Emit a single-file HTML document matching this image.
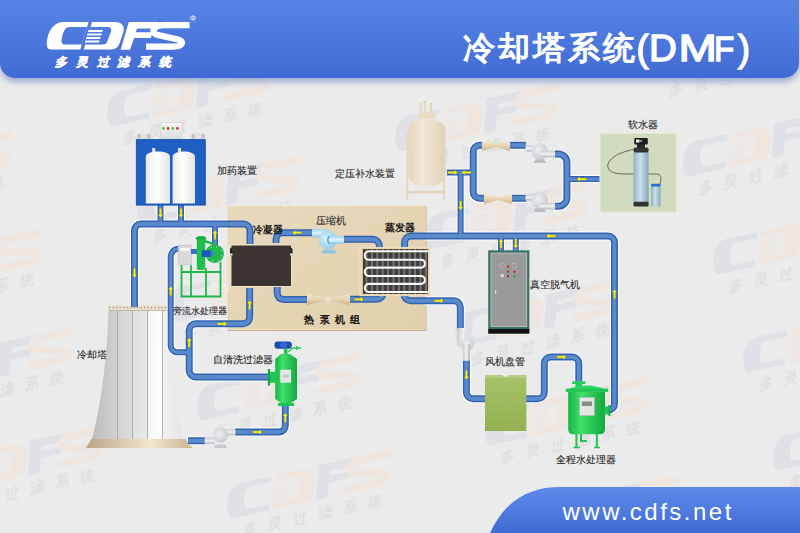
<!DOCTYPE html>
<html><head><meta charset="utf-8">
<style>
html,body{margin:0;padding:0;}
body{width:800px;height:533px;overflow:hidden;background:#ebebeb;position:relative;font-family:"Liberation Sans",sans-serif;}
svg{position:absolute;left:0;top:0;}
text{font-family:"Liberation Sans",sans-serif;}
.lb{font-size:10px;fill:#2a2a2a;stroke:#2a2a2a;stroke-width:0.12;}
.lbb{font-size:10px;fill:#111;stroke:#111;stroke-width:0.35;}
</style></head><body>
<svg width="800" height="533" viewBox="0 0 800 533">
<defs>
  <linearGradient id="hdr" x1="0" y1="0" x2="0" y2="1">
    <stop offset="0" stop-color="#5e8aea"/><stop offset="1" stop-color="#416bd3"/>
  </linearGradient>
  <filter id="sh" x="-10%" y="-30%" width="120%" height="170%">
    <feGaussianBlur in="SourceAlpha" stdDeviation="3.2"/>
    <feOffset dx="0" dy="4" result="b"/>
    <feColorMatrix type="matrix" values="0 0 0 0 0.33  0 0 0 0 0.41  0 0 0 0 0.64  0 0 0 1 0"/>
    <feMerge><feMergeNode/><feMergeNode in="SourceGraphic"/></feMerge>
  </filter>
  <linearGradient id="tanbox" x1="0" y1="0" x2="1" y2="1">
    <stop offset="0" stop-color="#e9dabd"/><stop offset="1" stop-color="#e1d0ad"/>
  </linearGradient>
  <linearGradient id="cream" x1="0" y1="0" x2="1" y2="0">
    <stop offset="0" stop-color="#e4d6be"/><stop offset="0.4" stop-color="#f2e8d8"/><stop offset="1" stop-color="#e2d2b8"/>
  </linearGradient>
  <linearGradient id="bow" x1="0" y1="0" x2="0" y2="1">
    <stop offset="0" stop-color="#f3e6cf"/><stop offset="0.5" stop-color="#e9d4b0"/><stop offset="1" stop-color="#cdb189"/>
  </linearGradient>
  <radialGradient id="greyp" cx="0.4" cy="0.4" r="0.7">
    <stop offset="0" stop-color="#eceef0"/><stop offset="1" stop-color="#c4c8cd"/>
  </radialGradient>
  <linearGradient id="greypipe" x1="0" y1="0" x2="0" y2="1">
    <stop offset="0" stop-color="#c9cbce"/><stop offset="0.5" stop-color="#f2f2f2"/><stop offset="1" stop-color="#b8babd"/>
  </linearGradient>
  <linearGradient id="greypipev" x1="0" y1="0" x2="1" y2="0">
    <stop offset="0" stop-color="#c9cbce"/><stop offset="0.5" stop-color="#f2f2f2"/><stop offset="1" stop-color="#b8babd"/>
  </linearGradient>
  <radialGradient id="bluep" cx="0.4" cy="0.4" r="0.7">
    <stop offset="0" stop-color="#d8f0fb"/><stop offset="1" stop-color="#8ec9e6"/>
  </radialGradient>
  <linearGradient id="bluepipe" x1="0" y1="0" x2="0" y2="1">
    <stop offset="0" stop-color="#9fd3ee"/><stop offset="0.5" stop-color="#e2f4fc"/><stop offset="1" stop-color="#8cc6e4"/>
  </linearGradient>
  <linearGradient id="tower" gradientUnits="userSpaceOnUse" x1="92" y1="0" x2="184" y2="0">
    <stop offset="0" stop-color="#bdbdbd"/><stop offset="0.2" stop-color="#cbcbcb"/><stop offset="0.36" stop-color="#d9d9d9"/><stop offset="0.44" stop-color="#dcdcdc"/><stop offset="0.45" stop-color="#e0e0e0"/><stop offset="0.59" stop-color="#e8e8e8"/><stop offset="0.61" stop-color="#f8f8f8"/><stop offset="0.76" stop-color="#fdfdfd"/><stop offset="0.78" stop-color="#f0f0f0"/><stop offset="1" stop-color="#e4e4e4"/>
  </linearGradient>
  <linearGradient id="towerbase" x1="0" y1="0" x2="1" y2="0">
    <stop offset="0" stop-color="#b9a584"/><stop offset="0.6" stop-color="#f3e6d0"/><stop offset="1" stop-color="#c9b38f"/>
  </linearGradient>
  <linearGradient id="green" x1="0" y1="0" x2="1" y2="0">
    <stop offset="0" stop-color="#18b545"/><stop offset="0.35" stop-color="#3fe06a"/><stop offset="1" stop-color="#14a83e"/>
  </linearGradient>
  <linearGradient id="fancoil" x1="0" y1="0" x2="0" y2="1">
    <stop offset="0" stop-color="#a8c46a"/><stop offset="1" stop-color="#93b052"/>
  </linearGradient>
  <linearGradient id="tankw" x1="0" y1="0" x2="1" y2="0">
    <stop offset="0" stop-color="#ececec"/><stop offset="0.45" stop-color="#ffffff"/><stop offset="1" stop-color="#e4e4e4"/>
  </linearGradient>
  <linearGradient id="softtank" x1="0" y1="0" x2="1" y2="0">
    <stop offset="0" stop-color="#8fb2c4"/><stop offset="0.45" stop-color="#c8e0ea"/><stop offset="1" stop-color="#86a9bb"/>
  </linearGradient>
  <linearGradient id="ctrlbox" x1="0" y1="0" x2="0" y2="1"><stop offset="0" stop-color="#f6f6f6"/><stop offset="1" stop-color="#dcdcdc"/></linearGradient>
  <path id="ar" d="M-4.8 -1.15H1.6V-2.7L4.8 0L1.6 2.7V1.15H-4.8Z" fill="#fff200" stroke="#2a55b8" stroke-width="0.3"/>
</defs>

<defs><g id="wm" transform="translate(-63 -36)">
<path fill="#e0e1e7" fill-rule="evenodd" d="M63 22H88.6L80.3 49.5H51C47.5 49.5 46.3 46 46.8 41.5C48 31 54 22 63 22Z M69 27H87L81.6 44.5H65C62 44.5 61 42 61.7 39C63 32 65 27 69 27Z"/>
<path fill="#eee6df" fill-rule="evenodd" d="M92 22H115C121.5 22 125 26 123.5 31.5L119.5 43.5C118 47.5 115 49.5 110.5 49.5H83.7Z M90.4 27H108C110.5 27 111.8 29 111 31.5L107 42C106.3 43.8 105 44.5 103 44.5H85.1Z"/>
<path fill="#eee6df" d="M88.58 30.0H102.80L102.20 32.0H87.98ZM87.53 33.5H101.75L101.14 35.5H86.92ZM86.47 37.0H100.69L100.08 39.0H85.87ZM85.41 40.5H99.63L99.03 42.5H84.81Z"/>
<path fill="#e0e1e7" d="M128.8 22H159.5L157.3 28.5H137L135.8 32.3H152.6L150.9 37.9H134.1L130 49.75H120.6Z"/>
<path d="M189.5 25.2H164C155 25.2 150 31.5 156 34.5L178 39.5C185 41.5 182 46.6 174 46.6H146" fill="none" stroke="#eee6df" stroke-width="6.3"/>
<text transform="translate(55 65.5) skewX(-14)" font-size="12" font-weight="bold" fill="#e0e0e0" letter-spacing="9">多灵过滤系统</text>
</g></defs>
<use href="#wm" transform="translate(-193 -16) rotate(-12.5) scale(1.2)"/>
<use href="#wm" transform="translate(-163 82) rotate(-12.5) scale(1.2)"/>
<use href="#wm" transform="translate(-133 180) rotate(-12.5) scale(1.2)"/>
<use href="#wm" transform="translate(-103 278) rotate(-12.5) scale(1.2)"/>
<use href="#wm" transform="translate(-73 376) rotate(-12.5) scale(1.2)"/>
<use href="#wm" transform="translate(-43 474) rotate(-12.5) scale(1.2)"/>
<use href="#wm" transform="translate(95 9) rotate(-12.5) scale(1.2)"/>
<use href="#wm" transform="translate(125 107) rotate(-12.5) scale(1.2)"/>
<use href="#wm" transform="translate(155 205) rotate(-12.5) scale(1.2)"/>
<use href="#wm" transform="translate(185 303) rotate(-12.5) scale(1.2)"/>
<use href="#wm" transform="translate(215 401) rotate(-12.5) scale(1.2)"/>
<use href="#wm" transform="translate(245 499) rotate(-12.5) scale(1.2)"/>
<use href="#wm" transform="translate(383 34) rotate(-12.5) scale(1.2)"/>
<use href="#wm" transform="translate(413 132) rotate(-12.5) scale(1.2)"/>
<use href="#wm" transform="translate(443 230) rotate(-12.5) scale(1.2)"/>
<use href="#wm" transform="translate(473 328) rotate(-12.5) scale(1.2)"/>
<use href="#wm" transform="translate(503 426) rotate(-12.5) scale(1.2)"/>
<use href="#wm" transform="translate(533 524) rotate(-12.5) scale(1.2)"/>
<use href="#wm" transform="translate(671 59) rotate(-12.5) scale(1.2)"/>
<use href="#wm" transform="translate(701 157) rotate(-12.5) scale(1.2)"/>
<use href="#wm" transform="translate(731 255) rotate(-12.5) scale(1.2)"/>
<use href="#wm" transform="translate(761 353) rotate(-12.5) scale(1.2)"/>
<use href="#wm" transform="translate(791 451) rotate(-12.5) scale(1.2)"/>
<use href="#wm" transform="translate(821 549) rotate(-12.5) scale(1.2)"/>
<g filter="url(#sh)"><path d="M-20 -20H799V63A15 15 0 0 1 784 78H15A15 15 0 0 1 0 63V-20Z" fill="url(#hdr)"/></g>
<text x="463" y="59" font-size="32" letter-spacing="3" fill="#fff" stroke="#fff" stroke-width="1.3">冷却塔系统</text>
<g font-size="36" fill="#fff" stroke="#fff" stroke-width="1.3">
<text transform="translate(636.5 60.5) scale(1.0 1)">(</text>
<text transform="translate(649 60.5) scale(1.07 1)">D</text>
<text transform="translate(678.5 60.5) scale(1.28 1)">M</text>
<text transform="translate(714 60.5) scale(0.92 1)">F</text>
<text transform="translate(738 60.5) scale(1.0 1)">)</text>
</g>

<g fill="#fff">
<path fill-rule="evenodd" d="M63 22H88.6L80.3 49.5H51C47.5 49.5 46.3 46 46.8 41.5C48 31 54 22 63 22Z M69 27H87L81.6 44.5H65C62 44.5 61 42 61.7 39C63 32 65 27 69 27Z"/>
<path fill-rule="evenodd" d="M92 22H115C121.5 22 125 26 123.5 31.5L119.5 43.5C118 47.5 115 49.5 110.5 49.5H83.7Z M90.4 27H108C110.5 27 111.8 29 111 31.5L107 42C106.3 43.8 105 44.5 103 44.5H85.1Z"/>
<path d="M88.58 30.0H102.80L102.20 32.0H87.98ZM87.53 33.5H101.75L101.14 35.5H86.92ZM86.47 37.0H100.69L100.08 39.0H85.87ZM85.41 40.5H99.63L99.03 42.5H84.81Z"/>
<path d="M128.8 22H159.5L157.3 28.5H137L135.8 32.3H152.6L150.9 37.9H134.1L130 49.75H120.6Z"/>
</g>
<path d="M189.5 25.2H164C155 25.2 150 31.5 156 34.5L178 39.5C185 41.5 182 46.6 174 46.6H146" fill="none" stroke="#fff" stroke-width="6.3"/>
<circle cx="193" cy="18" r="2.4" fill="none" stroke="#fff" stroke-width="0.6"/><text x="191.6" y="19.8" font-size="4.5" fill="#fff">R</text>
<text transform="translate(55 65.5) skewX(-14)" font-size="12" font-weight="bold" fill="#fff" stroke="#fff" stroke-width="0.5" letter-spacing="9">多灵过滤系统</text>
<rect x="227" y="205.5" width="198.5" height="124.5" fill="url(#tanbox)" stroke="#f3ead8" stroke-width="1"/>
<path d="M227.5 330.5H426V206" fill="none" stroke="#c4b291" stroke-width="1"/>
<path d="M108.5 308H170.5C170.5 360 174 405 184 439H92C101 405 107 360 108.5 308Z" fill="url(#tower)"/>
<line x1="117.5" y1="309" x2="117.5" y2="439" stroke="#a8a8a8" stroke-width="0.9"/>
<line x1="132.5" y1="309" x2="132.5" y2="439" stroke="#a8a8a8" stroke-width="0.9"/>
<line x1="147.5" y1="309" x2="147.5" y2="439" stroke="#a8a8a8" stroke-width="0.9"/>
<line x1="162.5" y1="309" x2="162.5" y2="439" stroke="#a8a8a8" stroke-width="0.9"/>
<path d="M91.5 439H185L192.5 448H86Z" fill="url(#towerbase)"/>
<rect x="108.5" y="305.5" width="63" height="5" fill="#e9dfcf"/>
<path d="M109 307.5H171.5" stroke="#a89878" stroke-width="1.6" stroke-dasharray="1.2 2.3"/>
<path d="M109 310.5H171.5" stroke="#b8ab94" stroke-width="0.8"/>
<mask id="nobox"><rect x="0" y="0" width="800" height="533" fill="#fff"/><rect x="227.5" y="206" width="197.5" height="123.5" fill="#000"/></mask>
<g mask="url(#nobox)"><path d="M134.5 307V230.5A6.5 6.5 0 0 1 141 224H243.5A6.5 6.5 0 0 1 250 230.5V244 M268 377H195.7A6.5 6.5 0 0 1 189.2 370.5V330.3A6.5 6.5 0 0 1 195.7 323.8H243.1A6.5 6.5 0 0 0 249.6 317.3V288 M276 243V239.2A6.5 6.5 0 0 1 282.5 232.7H313 M343 239.3H372.8A6.5 6.5 0 0 1 379.3 245.8V249 M404.6 249V242.5A6.5 6.5 0 0 1 411.1 236H608A6.5 6.5 0 0 1 614.5 242.5V403.8A6.5 6.5 0 0 1 608 410.3H606 M483 145.3H479.7A6.5 6.5 0 0 0 473.2 151.8V191.7A6.5 6.5 0 0 0 479.7 198.2H485M509 145.3H526M511 198.2H526 M555 154.1H558.4A8.5 8.5 0 0 1 566.9 162.6V197.7A8.5 8.5 0 0 1 558.4 206.2H555 M277.2 287V293.1A6.5 6.5 0 0 0 283.7 299.6H308 M349 299.3H376.8A6.5 6.5 0 0 0 383.3 292.8V290 M404 290V294.3A6.5 6.5 0 0 0 410.5 300.8H453.8A6.5 6.5 0 0 1 460.3 307.3V330 M466.4 358V392.3A6.5 6.5 0 0 0 472.9 398.8H486M526 398.8H537.8A6.5 6.5 0 0 0 544.3 392.3V363.5A6.5 6.5 0 0 1 550.8 357H572.3A6.5 6.5 0 0 1 578.8 363.5V381.5 M188 440.8H205 M235 432.1H278.8A6.5 6.5 0 0 0 285.3 425.6V405" fill="none" stroke="#fff" stroke-width="9" opacity="0.9"/>
<path d="M566.9 179.1H601 M182 248.7H178.7A8 8 0 0 0 170.7 256.7V345.8A6.5 6.5 0 0 0 177.2 352.3H189.2 M447 172.5H473 M460.6 172.5V236 M160.5 205V224 M181 205V224 M215 245V224 M501 236V251 M515.8 236V251" fill="none" stroke="#fff" stroke-width="8" opacity="0.9"/></g>
<path d="M134.5 307V230.5A6.5 6.5 0 0 1 141 224H243.5A6.5 6.5 0 0 1 250 230.5V244 M268 377H195.7A6.5 6.5 0 0 1 189.2 370.5V330.3A6.5 6.5 0 0 1 195.7 323.8H243.1A6.5 6.5 0 0 0 249.6 317.3V288 M276 243V239.2A6.5 6.5 0 0 1 282.5 232.7H313 M343 239.3H372.8A6.5 6.5 0 0 1 379.3 245.8V249 M404.6 249V242.5A6.5 6.5 0 0 1 411.1 236H608A6.5 6.5 0 0 1 614.5 242.5V403.8A6.5 6.5 0 0 1 608 410.3H606 M483 145.3H479.7A6.5 6.5 0 0 0 473.2 151.8V191.7A6.5 6.5 0 0 0 479.7 198.2H485M509 145.3H526M511 198.2H526 M555 154.1H558.4A8.5 8.5 0 0 1 566.9 162.6V197.7A8.5 8.5 0 0 1 558.4 206.2H555 M277.2 287V293.1A6.5 6.5 0 0 0 283.7 299.6H308 M349 299.3H376.8A6.5 6.5 0 0 0 383.3 292.8V290 M404 290V294.3A6.5 6.5 0 0 0 410.5 300.8H453.8A6.5 6.5 0 0 1 460.3 307.3V330 M466.4 358V392.3A6.5 6.5 0 0 0 472.9 398.8H486M526 398.8H537.8A6.5 6.5 0 0 0 544.3 392.3V363.5A6.5 6.5 0 0 1 550.8 357H572.3A6.5 6.5 0 0 1 578.8 363.5V381.5 M188 440.8H205 M235 432.1H278.8A6.5 6.5 0 0 0 285.3 425.6V405" fill="none" stroke="#3363b0" stroke-width="7"/>
<path d="M566.9 179.1H601 M182 248.7H178.7A8 8 0 0 0 170.7 256.7V345.8A6.5 6.5 0 0 0 177.2 352.3H189.2 M447 172.5H473 M460.6 172.5V236 M160.5 205V224 M181 205V224 M215 245V224 M501 236V251 M515.8 236V251" fill="none" stroke="#3363b0" stroke-width="6"/>
<path d="M134.5 307V230.5A6.5 6.5 0 0 1 141 224H243.5A6.5 6.5 0 0 1 250 230.5V244 M268 377H195.7A6.5 6.5 0 0 1 189.2 370.5V330.3A6.5 6.5 0 0 1 195.7 323.8H243.1A6.5 6.5 0 0 0 249.6 317.3V288 M276 243V239.2A6.5 6.5 0 0 1 282.5 232.7H313 M343 239.3H372.8A6.5 6.5 0 0 1 379.3 245.8V249 M404.6 249V242.5A6.5 6.5 0 0 1 411.1 236H608A6.5 6.5 0 0 1 614.5 242.5V403.8A6.5 6.5 0 0 1 608 410.3H606 M483 145.3H479.7A6.5 6.5 0 0 0 473.2 151.8V191.7A6.5 6.5 0 0 0 479.7 198.2H485M509 145.3H526M511 198.2H526 M555 154.1H558.4A8.5 8.5 0 0 1 566.9 162.6V197.7A8.5 8.5 0 0 1 558.4 206.2H555 M277.2 287V293.1A6.5 6.5 0 0 0 283.7 299.6H308 M349 299.3H376.8A6.5 6.5 0 0 0 383.3 292.8V290 M404 290V294.3A6.5 6.5 0 0 0 410.5 300.8H453.8A6.5 6.5 0 0 1 460.3 307.3V330 M466.4 358V392.3A6.5 6.5 0 0 0 472.9 398.8H486M526 398.8H537.8A6.5 6.5 0 0 0 544.3 392.3V363.5A6.5 6.5 0 0 1 550.8 357H572.3A6.5 6.5 0 0 1 578.8 363.5V381.5 M188 440.8H205 M235 432.1H278.8A6.5 6.5 0 0 0 285.3 425.6V405" fill="none" stroke="#5b8acb" stroke-width="4"/>
<path d="M566.9 179.1H601 M182 248.7H178.7A8 8 0 0 0 170.7 256.7V345.8A6.5 6.5 0 0 0 177.2 352.3H189.2 M447 172.5H473 M460.6 172.5V236 M160.5 205V224 M181 205V224 M215 245V224 M501 236V251 M515.8 236V251" fill="none" stroke="#5b8acb" stroke-width="3.2"/>
<rect x="231" y="245" width="60.5" height="41.5" fill="#3b3431" stroke="#f0e2c6" stroke-width="1"/>
<rect x="227.5" y="244" width="2" height="46" fill="#f1e6d0"/>
<path d="M230 249.5Q230 247.5 232 247.5V255.5H230Z" fill="#222"/><rect x="229.5" y="253.5" width="3" height="2" fill="#e8e8e8"/>
<path d="M292.5 249.5Q292.5 247.5 290.5 247.5V255.5H292.5Z" fill="#222"/><rect x="290" y="253.5" width="3" height="2" fill="#e8e8e8"/>
<rect x="360" y="247.3" width="69.8" height="48.4" fill="#ebd3a6" stroke="#f3e4c8" stroke-width="0.8"/>
<rect x="362.9" y="249" width="65.1" height="45" fill="#3f3d3c"/>
<rect x="365.5" y="249" width="2" height="45" fill="#757371"/>
<rect x="370.9" y="249" width="2" height="45" fill="#757371"/>
<rect x="376.3" y="249" width="2" height="45" fill="#757371"/>
<rect x="381.7" y="249" width="2" height="45" fill="#757371"/>
<rect x="387.1" y="249" width="2" height="45" fill="#757371"/>
<rect x="392.5" y="249" width="2" height="45" fill="#757371"/>
<rect x="397.9" y="249" width="2" height="45" fill="#757371"/>
<rect x="403.3" y="249" width="2" height="45" fill="#757371"/>
<rect x="408.7" y="249" width="2" height="45" fill="#757371"/>
<rect x="414.1" y="249" width="2" height="45" fill="#757371"/>
<rect x="419.5" y="249" width="2" height="45" fill="#757371"/>
<rect x="424.9" y="249" width="2" height="45" fill="#757371"/>
<path d="M428 251.2H369A4.25 4.25 0 0 0 369 259.7H421A3.95 3.95 0 0 1 421 267.6H369A4.2 4.2 0 0 0 369 276H421A3.95 3.95 0 0 1 421 283.9H369A4.05 4.05 0 0 0 369 292H428" fill="none" stroke="#fafafa" stroke-width="2.1"/>
<path d="M312 229.1H329V237.4H312Z" fill="url(#bluepipe)"/>
<path d="M321 253.5L323.5 249.8H334.5L336.8 253.5Z" fill="#8fc6e4"/>
<circle cx="327.8" cy="240" r="9.2" fill="url(#bluep)"/>
<path d="M327.8 235.9H344V243.8H327.8Z" fill="url(#bluepipe)"/>
<path d="M329.5 236Q326 239.8 329.5 243.7" fill="none" stroke="#5fb2e0" stroke-width="1.6"/>
<path d="M307 294L325 297.5V301L307 305Z" fill="url(#bow)"/><path d="M350 294L331 297.5V301L350 305Z" fill="url(#bow)"/><circle cx="327.7" cy="299.5" r="3" fill="#eee0c8"/>
<rect x="160.5" y="122.3" width="21.5" height="17.5" fill="url(#ctrlbox)" stroke="#d0d0d0" stroke-width="0.6"/>
<circle cx="163.40" cy="128.4" r="1.3" fill="#38c048"/>
<circle cx="168.07" cy="128.4" r="1.3" fill="#e02020"/>
<circle cx="172.74" cy="128.4" r="1.3" fill="#38c048"/>
<circle cx="177.41" cy="128.4" r="1.3" fill="#e02020"/>
<rect x="137.2" y="133.8" width="13.5" height="5" rx="1.5" fill="#c4c4c4"/><rect x="140.7" y="133" width="6.5" height="6.5" rx="1.5" fill="#e2e2e2"/>
<rect x="191.5" y="133.8" width="13.5" height="5" rx="1.5" fill="#c4c4c4"/><rect x="195.0" y="133" width="6.5" height="6.5" rx="1.5" fill="#e2e2e2"/>
<rect x="136.3" y="139.6" width="69" height="65.5" fill="#1f5ec2" stroke="#114bab" stroke-width="0.8"/>
<path d="M145.8 157C145.8 153 152 151.6 157.9 151.6C163.8 151.6 170 153 170 157V203.4H145.8Z" fill="url(#tankw)"/><path d="M172.6 157C172.6 153 178.5 151.6 183.8 151.6C189.1 151.6 195 153 195 157V203.4H172.6Z" fill="url(#tankw)"/>
<rect x="152.2" y="148" width="3" height="4.5" fill="#e8e8e8"/><rect x="178" y="148" width="3" height="4.5" fill="#e8e8e8"/>
<rect x="406.3" y="133" width="2" height="67.5" fill="#e6d8c0"/><rect x="443" y="133" width="2" height="67.5" fill="#e6d8c0"/><rect x="406.3" y="190.8" width="38.7" height="2.5" fill="#e3d4ba"/>
<path d="M408.3 130A18.6 11.3 0 0 1 445.5 130V175.5A18.6 11.3 0 0 1 408.3 175.5Z" fill="url(#cream)"/>
<path d="M417.6 118.7V114Q422 112 427 112.5Q432 112 436.2 114V118.7Z" fill="#eadcc4"/>
<path d="M420.7 113V104.5M424.8 113V102M431 113V104.5" stroke="#e6d6ba" stroke-width="1.8"/>
<circle cx="420.7" cy="104" r="1.2" fill="#e0cfb2"/><circle cx="424.8" cy="101.8" r="1.2" fill="#e0cfb2"/><circle cx="431" cy="104" r="1.2" fill="#e0cfb2"/>
<path d="M482 141L496 144V147L482 151Z" fill="url(#bow)"/><path d="M510 141L496 144V147L510 151Z" fill="url(#bow)"/>
<path d="M484 194L498 197V200L484 204Z" fill="url(#bow)"/><path d="M512 194L498 197V200L512 204Z" fill="url(#bow)"/>
<rect x="525.5" y="145.5" width="12" height="6" fill="url(#greypipe)"/>
<path d="M533.9 163.0L535.9 158.5H543.9L545.9 163.0Z" fill="#b9bcc0"/>
<circle cx="539.9" cy="151.5" r="8.2" fill="url(#greyp)"/>
<rect x="539.9" y="150.9" width="15" height="6.4" fill="url(#greypipe)"/>
<rect x="525.5" y="194.5" width="12" height="6" fill="url(#greypipe)"/>
<path d="M533.9 212.0L535.9 207.5H543.9L545.9 212.0Z" fill="#b9bcc0"/>
<circle cx="539.9" cy="200.5" r="8.2" fill="url(#greyp)"/>
<rect x="539.9" y="203.0" width="15" height="6.4" fill="url(#greypipe)"/>
<rect x="600" y="133.2" width="76.5" height="79" fill="#d0dcbd" stroke="#e6ecdc" stroke-width="1"/>
<path d="M633.5 149.5C615 153 604 162 609 169.5C612 174 620 174 633 174H656C661 174 662 177 660 184" fill="none" stroke="#50604e" stroke-width="0.9"/>
<rect x="651" y="184.2" width="9.6" height="22.4" fill="url(#softtank)"/><rect x="651" y="183.8" width="9.6" height="2.6" rx="1.2" fill="#2a70d0"/>
<rect x="633.5" y="152" width="15.1" height="50" fill="url(#softtank)"/>
<rect x="633.5" y="147.5" width="15.1" height="5" rx="2" fill="#333"/><rect x="633.5" y="201.8" width="15.1" height="4.8" rx="1" fill="#333"/>
<rect x="637" y="144" width="8" height="4" fill="#2a2a2a"/>
<rect x="634.3" y="138" width="13.5" height="6.4" rx="1" fill="#1e1e1e"/><rect x="636" y="139.5" width="3.5" height="3" fill="#eee"/><rect x="640" y="140" width="2" height="2" fill="#999"/>
<rect x="488.2" y="250.3" width="41.2" height="79" fill="#3b746b"/>
<rect x="490.5" y="252.6" width="36.6" height="74.4" fill="#b9b9b9"/>
<rect x="491.5" y="253.6" width="34.6" height="72.4" fill="#9a9a9a"/>
<rect x="488.2" y="328.9" width="41.2" height="4.8" fill="#111"/>
<rect x="500.2" y="263.3" width="4" height="4" fill="none" stroke="#b8b8b8" stroke-width="0.6"/><rect x="512.6" y="263.3" width="4" height="4" fill="none" stroke="#b8b8b8" stroke-width="0.6"/>
<circle cx="508" cy="266.6" r="1.15" fill="#c81e1e"/>
<circle cx="508" cy="271.8" r="1.15" fill="#c81e1e"/>
<circle cx="514.3" cy="271.8" r="1.15" fill="#c81e1e"/>
<circle cx="508" cy="276.2" r="1.15" fill="#c81e1e"/>
<circle cx="514.3" cy="276.2" r="1.15" fill="#18a848"/>
<circle cx="502.2" cy="275.6" r="1.9" fill="#d6d6d6"/>
<rect x="495" y="290" width="1.2" height="3.5" fill="#e0e0e0"/>
<path d="M457.2 328H464.2V340Q464.2 343 467 343H469.9V360.5H462.8V348Q457.2 348 457.2 342Z" fill="url(#greypipev)"/>
<circle cx="467.5" cy="344.3" r="6.6" fill="url(#greyp)"/>
<rect x="462.8" y="344" width="7.1" height="16.5" fill="url(#greypipev)"/>
<rect x="485" y="375" width="41.3" height="56" fill="url(#fancoil)"/>
<rect x="485" y="375" width="41.3" height="2.5" fill="#b8cf85"/><rect x="503" y="374.5" width="5" height="2" fill="#f0f0f0"/>
<rect x="575.5" y="383.5" width="6.5" height="6" fill="#22cc55"/><rect x="572.3" y="381.3" width="13.1" height="2.7" fill="#22cc55"/>
<path d="M566 390Q586.5 381 607.5 390Z" fill="#2bd865"/>
<rect x="565.8" y="388.7" width="42.4" height="3.2" fill="#1fc452"/>
<path d="M568.2 391.9H605V429.3Q605 434.3 600 434.3H573.2Q568.2 434.3 568.2 429.3Z" fill="url(#green)"/>
<path d="M576.4 434V447.4M581 434V441H587M596.8 434V447.4" fill="none" stroke="#22c455" stroke-width="2"/>
<path d="M573.5 447.4H580M594 447.4H600" stroke="#22c455" stroke-width="1.5"/>
<rect x="579.7" y="397.6" width="14.6" height="18" fill="#e4e4e4" stroke="#b8b8b8" stroke-width="0.6"/><rect x="582" y="401.5" width="10" height="4.5" fill="#8a8a8a"/>
<rect x="604.5" y="406.5" width="5.5" height="8" fill="#22c455"/><rect x="608.5" y="405" width="1.8" height="11" fill="#1aa840"/>
<rect x="274.5" y="341.5" width="17.3" height="7.2" rx="3" fill="#1d4fb0"/><rect x="280" y="342.5" width="7" height="5" rx="2" fill="#2f6ad0"/>
<rect x="283.9" y="348.5" width="3.6" height="6" fill="#22c455"/>
<path d="M288 352L293 348H301M297 346V350" fill="none" stroke="#30c060" stroke-width="1.5"/>
<path d="M281 354H290L297 359V399L291 403H281L275.2 399V359Z" fill="url(#green)"/>
<rect x="268.7" y="371.8" width="7" height="10.9" fill="#22c455"/><rect x="267.8" y="369" width="2.2" height="16.5" fill="#1aa840"/>
<rect x="278" y="403" width="16" height="3" fill="#22c455"/>
<rect x="280.3" y="369.7" width="10.8" height="13" fill="#e6e6e6"/><rect x="283" y="374.5" width="5.5" height="3" fill="#c4c4c4"/>
<rect x="220" y="429.2" width="15.5" height="6" fill="url(#greypipe)"/>
<path d="M213.7 448L216 444.5H225L227.2 448Z" fill="#c6cace"/>
<rect x="204.7" y="437.6" width="10" height="6.4" fill="url(#greypipe)"/>
<circle cx="220.5" cy="435.2" r="7.5" fill="url(#greyp)"/>
<path d="M181.5 264V296.5H220.5V262 M181.5 272H221.5 M191 264V296.5 M206 268V296.5" fill="none" stroke="#1fb848" stroke-width="1.8"/>
<rect x="178.2" y="245" width="13.5" height="20" fill="#d9d9d9" stroke="#c4c4c4" stroke-width="0.6"/><rect x="180.5" y="248" width="9" height="3" fill="#fafafa"/>
<rect x="191" y="249" width="6" height="5" fill="#3a6fc8"/>
<rect x="196.8" y="236" width="8.4" height="34" rx="2" fill="#1fbf4d"/><rect x="195.8" y="237.5" width="10.4" height="2" fill="#18a840"/>
<path d="M204 241L214 244" stroke="#20b84c" stroke-width="2.5"/>
<circle cx="214.6" cy="253.7" r="9.3" fill="#20b84c"/>
<circle cx="221.5" cy="255.8" r="0.6" fill="#c8f0d0"/>
<circle cx="218.0" cy="260.1" r="0.6" fill="#c8f0d0"/>
<circle cx="212.5" cy="260.6" r="0.6" fill="#c8f0d0"/>
<circle cx="208.2" cy="257.1" r="0.6" fill="#c8f0d0"/>
<circle cx="207.7" cy="251.6" r="0.6" fill="#c8f0d0"/>
<circle cx="211.2" cy="247.3" r="0.6" fill="#c8f0d0"/>
<circle cx="216.7" cy="246.8" r="0.6" fill="#c8f0d0"/>
<circle cx="221.0" cy="250.3" r="0.6" fill="#c8f0d0"/>
<rect x="201.8" y="250.3" width="9" height="6.7" fill="#1d55c0"/><rect x="210.5" y="251.5" width="2.7" height="4.3" fill="#3a78d8"/>
<use href="#ar" transform="translate(160.5 213) rotate(90)"/>
<use href="#ar" transform="translate(181 213) rotate(90)"/>
<use href="#ar" transform="translate(134.5 273) rotate(90)"/>
<use href="#ar" transform="translate(170.7 291) rotate(-90)"/>
<use href="#ar" transform="translate(215 235) rotate(-90)"/>
<use href="#ar" transform="translate(297 232.7) rotate(180)"/>
<use href="#ar" transform="translate(249.6 305) rotate(-90)"/>
<use href="#ar" transform="translate(222 323.8) rotate(0)"/>
<use href="#ar" transform="translate(189.2 342.6) rotate(-90)"/>
<use href="#ar" transform="translate(257.6 432.1) rotate(0)"/>
<use href="#ar" transform="translate(285.3 417.7) rotate(-90)"/>
<use href="#ar" transform="translate(359 299.3) rotate(0)"/>
<use href="#ar" transform="translate(439 300.8) rotate(0)"/>
<use href="#ar" transform="translate(452.7 172.5) rotate(0)"/>
<use href="#ar" transform="translate(466.2 172.5) rotate(180)"/>
<use href="#ar" transform="translate(460.6 205.5) rotate(90)"/>
<use href="#ar" transform="translate(551 236) rotate(180)"/>
<use href="#ar" transform="translate(581.6 179.1) rotate(180)"/>
<use href="#ar" transform="translate(501 243.5) rotate(-90)"/>
<use href="#ar" transform="translate(515.8 243.5) rotate(90)"/>
<use href="#ar" transform="translate(614.5 294) rotate(-90)"/>
<use href="#ar" transform="translate(466.4 375) rotate(90)"/>
<use href="#ar" transform="translate(561.5 357) rotate(0)"/>
<text class="lb" x="217.2" y="174.3">加药装置</text>
<text class="lb" x="335.1" y="176.6">定压补水装置</text>
<text class="lb" x="627.6" y="127.9">软水器</text>
<text class="lbb" x="252.8" y="232.5">冷凝器</text>
<text class="lb" x="316.2" y="223.5">压缩机</text>
<text class="lbb" x="385" y="230.9">蒸发器</text>
<text class="lb" x="530" y="287.5">真空脱气机</text>
<text class="lb" style="font-size:9.2px" x="173.2" y="313.5">旁流水处理器</text>
<text class="lb" x="77" y="357.6">冷却塔</text>
<text class="lb" x="213" y="362.5">自清洗过滤器</text>
<text class="lb" x="484.8" y="365.4">风机盘管</text>
<text class="lb" x="556" y="462.5">全程水处理器</text>
<text x="304.4" y="322.5" font-size="10" fill="#111" stroke="#111" stroke-width="0.45" letter-spacing="5.3">热泵机组</text>
<path d="M490 533C505 500 530 487 560 487H800V533Z" fill="url(#hdr)"/>
<text x="562.5" y="520" font-size="24" fill="#fff" letter-spacing="2.5">www.cdfs.net</text>
</svg>
</body></html>
